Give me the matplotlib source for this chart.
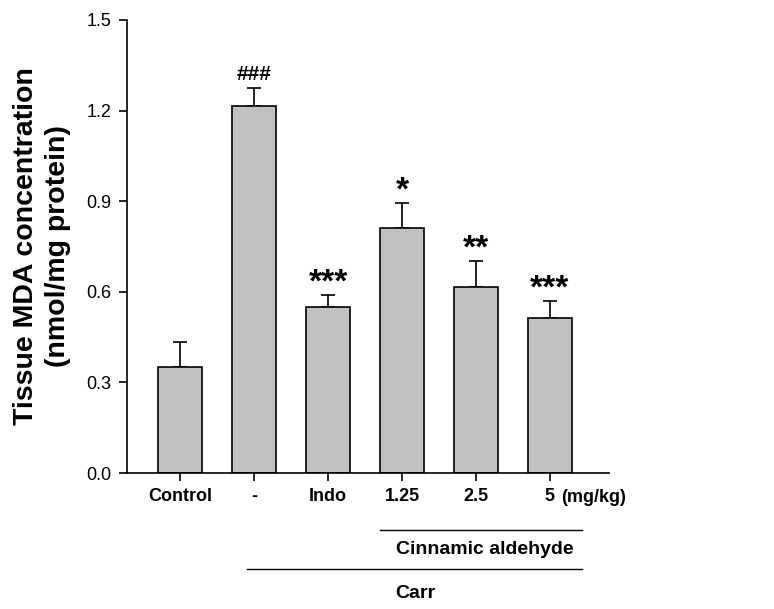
import matplotlib.pyplot as plt
import numpy as np

plt.rcParams['font.family'] = ['Liberation Sans', 'DejaVu Sans']

# data
groups = ['Control', '-', 'Indo', '1.25', '2.5', '5']
mda = [0.35, 1.215, 0.55, 0.81, 0.615, 0.513]
sem = [0.083, 0.06, 0.04, 0.083, 0.088, 0.058]
marks = ['', '###', '***', '*', '**', '***']
yticks = [0.0, 0.3, 0.6, 0.9, 1.2, 1.5]

W, H = 774, 609
fig = plt.figure(figsize=(W / 100, H / 100), dpi=100)
ax = fig.add_axes([127 / W, 1 - 473 / H, (609 - 127) / W, (473 - 20) / H])

x = np.arange(len(groups))
ax.bar(x, mda, width=0.6, color='#c0c0c0', edgecolor='black', linewidth=1.2, zorder=2)
ax.errorbar(x, mda, yerr=[np.zeros(len(sem)), sem], fmt='none', ecolor='black',
            elinewidth=1.2, capsize=4.8, capthick=1.2, zorder=1)

for xi, m, s, lab in zip(x, mda, sem, marks):
    if not lab:
        continue
    if lab.startswith('#'):
        ax.text(xi, m + s + 0.012, lab, ha='center', va='bottom', fontsize=15,
                fontweight='bold')
    else:
        ax.text(xi, m + s - 0.012, lab, ha='center', va='bottom', fontsize=24,
                fontweight='bold')

ax.set_xlim(-0.72, 5.8)
ax.set_ylim(0, 1.5)
ax.set_yticks(yticks)
ax.set_yticklabels([f'{t:.1f}' for t in yticks], fontsize=13)
ax.set_xticks(x)
ax.set_xticklabels(groups, fontsize=13, fontweight='bold')
ax.tick_params(axis='both', direction='out', length=6, width=1.2)
ax.tick_params(axis='x', pad=5)
ax.tick_params(axis='y', pad=5)
for side in ['top', 'right']:
    ax.spines[side].set_visible(False)
for side in ['left', 'bottom']:
    ax.spines[side].set_linewidth(1.2)

ax.set_ylabel('Tissue MDA concentration\n(nmol/mg protein)', fontsize=20.5,
              fontweight='bold', linespacing=1.3)
ax.yaxis.set_label_coords(-0.117, 0.5)

# group annotations below axis
fig.text(561 / W, 1 - 497 / H, '(mg/kg)', ha='left', va='center', fontsize=13,
         fontweight='bold')
fig.add_artist(plt.Line2D([380 / W, 582 / W], [1 - 530 / H, 1 - 530 / H],
                          color='black', linewidth=1))
fig.text(485 / W, 1 - 549 / H, 'Cinnamic aldehyde', ha='center', va='center',
         fontsize=14, fontweight='bold')
fig.add_artist(plt.Line2D([247 / W, 582 / W], [1 - 569 / H, 1 - 569 / H],
                          color='black', linewidth=1))
fig.text(415 / W, 1 - 593 / H, 'Carr', ha='center', va='center', fontsize=14,
         fontweight='bold')

plt.savefig('out.png', dpi=100)
